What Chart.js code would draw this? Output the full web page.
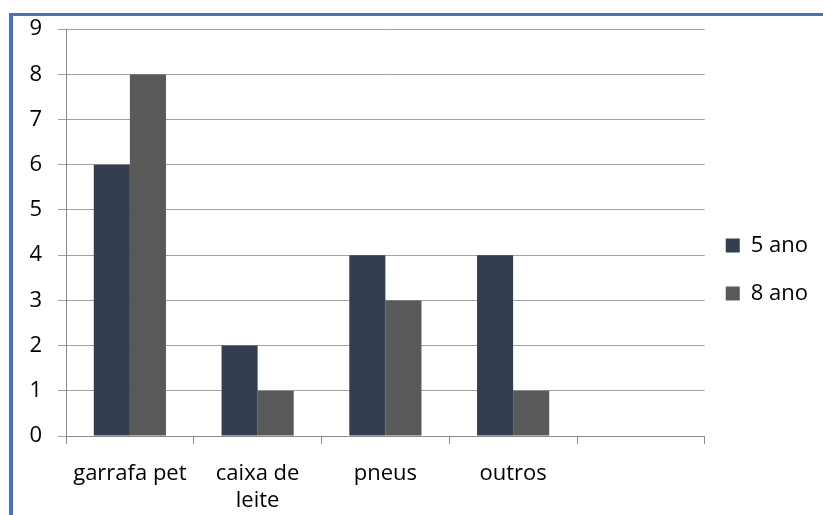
<!DOCTYPE html>
<html>
<head>
<meta charset="utf-8">
<script src="https://cdn.jsdelivr.net/npm/chart.js@4/dist/chart.umd.min.js"></script>
<style>
  html, body { margin: 0; padding: 0; background: #fff; }
  body { width: 823px; height: 515px; position: relative; overflow: hidden; }
  #frame {
    position: absolute; left: 9px; top: 13px; width: 814px; height: 502px;
    border-top: 3px solid #4472c4; border-left: 4px solid #4472c4;
    box-sizing: border-box;
  }
  #wrap { position: absolute; left: 13px; top: 0; width: 810px; height: 515px; }
</style>
</head>
<body>
<div id="frame"></div>
<div id="wrap"><canvas id="chart"></canvas></div>
<script>
"use strict";

// categorias (a última fica vazia, como no original)
const CATEGORIES = ["garrafa pet", ["caixa de", "leite"], "pneus", "outros", ""];
const SERIES_5_ANO = [6, 2, 4, 4, null];
const SERIES_8_ANO = [8, 1, 3, 1, null];
const Y_MIN = 0;
const Y_MAX = 9;

const FONT = { family: "'Open Sans', 'Noto Sans', sans-serif", size: 22 };
const GRID = "#a0a0a0";
const AXIS = "#8a8a8a";

// acerta a posição da legenda (no Excel ela fica centrada na altura toda)
const legendShift = {
  id: "legendShift",
  afterLayout(chart) {
    const l = chart.legend;
    if (!l) return;
    l.top += 12;
    l.bottom += 12;
    l.left -= 5;
    l.right -= 5;
  },
};

new Chart(document.getElementById("chart").getContext("2d"), {
  type: "bar",
  data: {
    labels: CATEGORIES,
    datasets: [
      {
        label: "5 ano",
        data: SERIES_5_ANO,
        backgroundColor: "#333f50",
        borderWidth: 0,
        categoryPercentage: 0.565,
        barPercentage: 1.0,
      },
      {
        label: "8 ano",
        data: SERIES_8_ANO,
        backgroundColor: "#595959",
        borderWidth: 0,
        categoryPercentage: 0.565,
        barPercentage: 1.0,
      },
    ],
  },
  options: {
    responsive: true,
    maintainAspectRatio: false,
    animation: false,
    layout: { padding: { top: 0, right: 0, bottom: 0, left: 0 } },
    scales: {
      x: {
        grid: {
          display: true,
          drawOnChartArea: false,
          drawTicks: true,
          tickLength: 8,
          color: AXIS,
        },
        border: { color: AXIS, width: 1 },
        ticks: { color: "#000", font: FONT, padding: 17, maxRotation: 0, autoSkip: false },
        afterFit: (s) => { s.height = 79; },
      },
      y: {
        min: Y_MIN,
        max: Y_MAX,
        grid: { color: GRID, tickLength: 8, drawTicks: true },
        border: { color: AXIS, width: 1 },
        ticks: { color: "#000", font: FONT, stepSize: 1, padding: 16 },
        afterFit: (s) => { s.width = 53; },
      },
    },
    plugins: {
      legend: {
        position: "right",
        maxWidth: 120,
        labels: {
          color: "#000",
          font: FONT,
          boxWidth: 14,
          boxHeight: 14,
          padding: 26,
        },
      },
      tooltip: { enabled: false },
    },
  },
  plugins: [legendShift],
});
</script>
</body>
</html>
